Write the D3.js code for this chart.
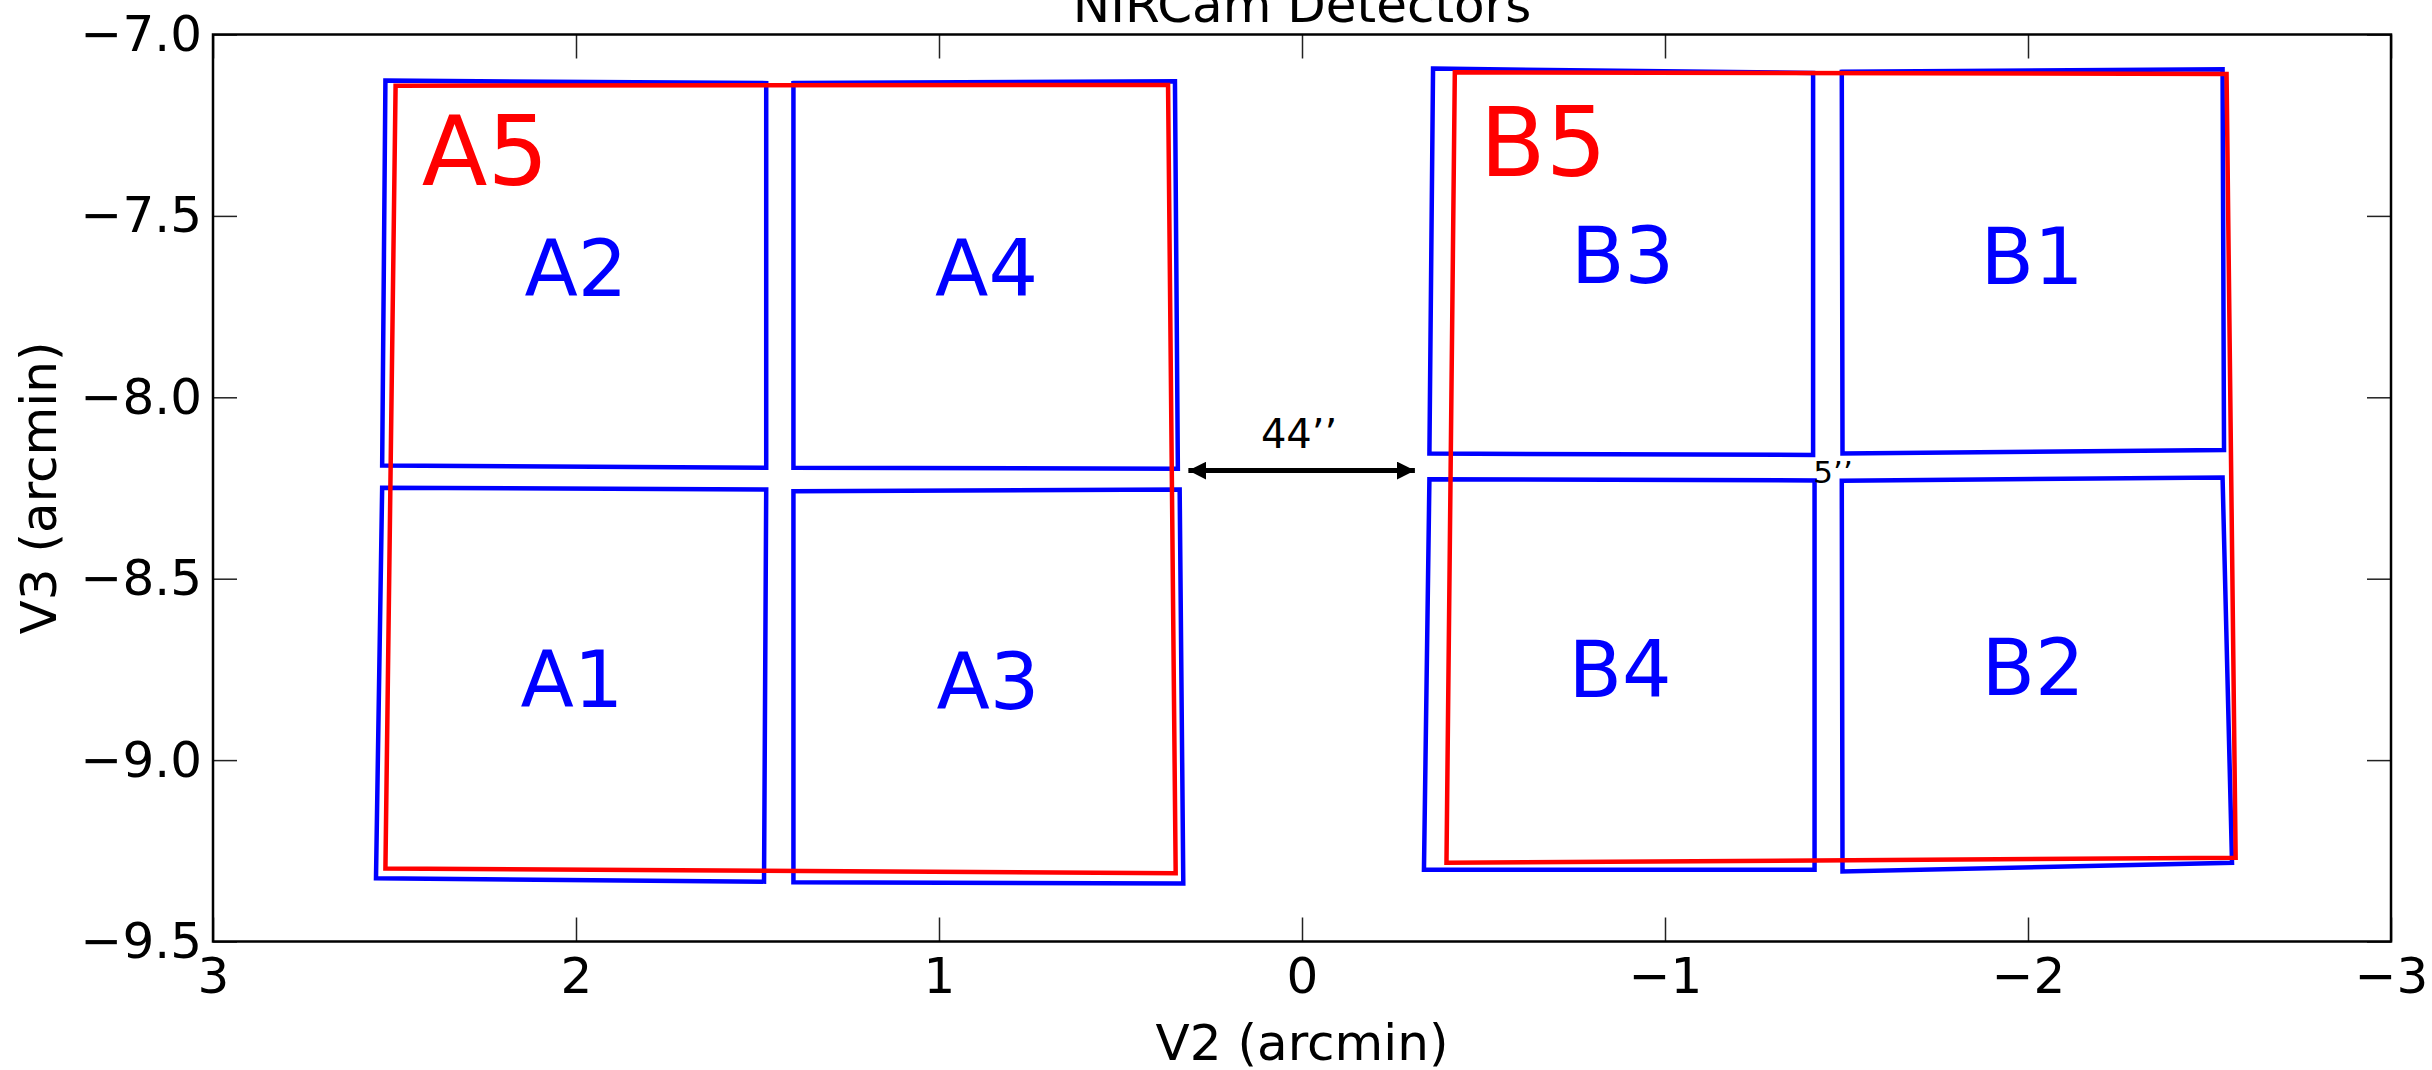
<!DOCTYPE html>
<html>
<head>
<meta charset="utf-8">
<script src="https://cdn.jsdelivr.net/npm/d3@7"></script>
<style>
  body { margin: 0; background: #fff; }
  text { font-family: "DejaVu Sans", sans-serif; }
</style>
</head>
<body>
<div id="chart"></div>
<script>
// detector corners (V2, V3 in arcmin), order: top-left, top-right, bottom-right, bottom-left
const detectorNames = ["A1", "A2", "A3", "A4", "B1", "B2", "B3", "B4"];
const detectorV2 = [
  [2.534, 1.476, 1.482, 2.551],
  [2.525, 1.476, 1.476, 2.534],
  [1.401, 0.337, 0.327, 1.401],
  [1.401, 0.350, 0.342, 1.401],
  [-1.487, -2.536, -2.540, -1.489],
  [-1.487, -2.536, -2.562, -1.489],
  [-0.361, -1.408, -1.408, -0.351],
  [-0.351, -1.412, -1.412, -0.336]
];
const detectorV3 = [
  [-8.249, -8.254, -9.335, -9.326],
  [-7.127, -7.134, -8.194, -8.188],
  [-8.259, -8.254, -9.340, -9.337],
  [-7.134, -7.129, -8.197, -8.194],
  [-7.103, -7.096, -8.145, -8.155],
  [-8.230, -8.221, -9.283, -9.307],
  [-7.094, -7.106, -8.159, -8.155],
  [-8.226, -8.229, -9.302, -9.302]
];
// label anchor (centre, baseline)
const detectorLabelV2 = [2.011, 2.0, 0.865, 0.869, -2.011, -2.014, -0.883, -0.876];
const detectorLabelV3 = [-8.853, -7.722, -8.859, -7.722, -7.689, -8.820, -7.684, -8.825];

// long wavelength modules
const moduleNames = ["A5", "B5"];
const moduleV2 = [
  [2.497, 0.369, 0.348, 2.525],
  [-0.421, -2.547, -2.572, -0.398]
];
const moduleV3 = [
  [-7.141, -7.139, -9.312, -9.299],
  [-7.104, -7.109, -9.269, -9.283]
];
// label anchor (left, baseline)
const moduleLabelV2 = [2.425, -0.490];
const moduleLabelV3 = [-7.416, -7.389];

// gap annotations
const gapArrowV2 = [0.313, -0.311];
const gapArrowV3 = -8.202;
const gapTexts = ["44\u2019\u2019", "5\u2019\u2019"];
const gapTextV2 = [0.008, -1.463];
const gapTextV3 = [-8.141, -8.235];

const xTicks = [3, 2, 1, 0, -1, -2, -3];
const yTicks = [-7.0, -7.5, -8.0, -8.5, -9.0, -9.5];

const W = 2432, H = 1070;
const margin = { top: 34.5, right: 41, bottom: 128.5, left: 213 };
const width = W - margin.left - margin.right;
const height = H - margin.top - margin.bottom;

const svg = d3.select("#chart").append("svg")
  .attr("width", W)
  .attr("height", H);

svg.append("defs").append("marker")
  .attr("id", "head")
  .attr("markerUnits", "userSpaceOnUse")
  .attr("viewBox", "0 0 18 18")
  .attr("refX", 18).attr("refY", 9)
  .attr("markerWidth", 18).attr("markerHeight", 18)
  .attr("orient", "auto-start-reverse")
  .append("path")
  .attr("d", "M0,0 L18,9 L0,18 Z")
  .attr("fill", "#000");

const g = svg.append("g")
  .attr("transform", "translate(" + margin.left + "," + margin.top + ")");

const x = d3.scaleLinear().domain([3, -3]).range([0, width]);
const y = d3.scaleLinear().domain([-7, -9.5]).range([0, height]);

const fmtY = d3.format(".1f");
const tickLen = 24;

// axes, ticks pointing inward on all four sides
const xb = g.append("g").attr("transform", "translate(0," + height + ")")
  .call(d3.axisBottom(x).tickValues(xTicks).tickFormat(d3.format("d"))
    .tickSizeInner(-tickLen).tickSizeOuter(0).tickPadding(16));
const xt = g.append("g")
  .call(d3.axisTop(x).tickValues(xTicks).tickFormat("")
    .tickSizeInner(-tickLen).tickSizeOuter(0));
const yl = g.append("g")
  .call(d3.axisLeft(y).tickValues(yTicks).tickFormat(fmtY)
    .tickSizeInner(-tickLen).tickSizeOuter(0).tickPadding(11));
const yr = g.append("g").attr("transform", "translate(" + width + ",0)")
  .call(d3.axisRight(y).tickValues(yTicks).tickFormat("")
    .tickSizeInner(-tickLen).tickSizeOuter(0));

[xb, xt, yl, yr].forEach(a => {
  a.select(".domain").remove();
  a.selectAll(".tick line").attr("stroke", "#222").attr("stroke-width", 1.5);
  a.selectAll(".tick text").attr("font-size", 50).attr("fill", "#000")
    .attr("font-family", "DejaVu Sans");
});

const line = d3.line().x(d => x(d[0])).y(d => y(d[1]));
const corners = (v2, v3) => v2.map((v, i) => [v, v3[i]]);

// detectors
g.selectAll(".det")
  .data(detectorNames)
  .enter().append("path")
  .attr("class", "det")
  .attr("d", (d, i) => line(corners(detectorV2[i], detectorV3[i])) + "Z")
  .attr("fill", "none")
  .attr("stroke", "#0000ff")
  .attr("stroke-width", 4.5);

// modules on top
g.selectAll(".mod")
  .data(moduleNames)
  .enter().append("path")
  .attr("class", "mod")
  .attr("d", (d, i) => line(corners(moduleV2[i], moduleV3[i])) + "Z")
  .attr("fill", "none")
  .attr("stroke", "#ff0000")
  .attr("stroke-width", 4.5);

g.selectAll(".detlabel")
  .data(detectorNames)
  .enter().append("text")
  .attr("class", "detlabel")
  .attr("x", (d, i) => x(detectorLabelV2[i]))
  .attr("y", (d, i) => y(detectorLabelV3[i]))
  .attr("text-anchor", "middle")
  .attr("font-size", 78)
  .attr("fill", "#0000ff")
  .text(d => d);

g.selectAll(".modlabel")
  .data(moduleNames)
  .enter().append("text")
  .attr("class", "modlabel")
  .attr("x", (d, i) => x(moduleLabelV2[i]))
  .attr("y", (d, i) => y(moduleLabelV3[i]))
  .attr("font-size", 96)
  .attr("fill", "#ff0000")
  .text(d => d);

// 44'' arrow
g.append("line")
  .attr("x1", x(gapArrowV2[0])).attr("x2", x(gapArrowV2[1]))
  .attr("y1", y(gapArrowV3)).attr("y2", y(gapArrowV3))
  .attr("stroke", "#000")
  .attr("stroke-width", 5)
  .attr("marker-start", "url(#head)")
  .attr("marker-end", "url(#head)");

g.selectAll(".gap")
  .data(gapTexts)
  .enter().append("text")
  .attr("class", "gap")
  .attr("x", (d, i) => x(gapTextV2[i]))
  .attr("y", (d, i) => y(gapTextV3[i]))
  .attr("text-anchor", "middle")
  .attr("font-size", (d, i) => i === 0 ? 40 : 31)
  .attr("fill", "#000")
  .text(d => d);

// frame
g.append("rect")
  .attr("width", width).attr("height", height)
  .attr("fill", "none")
  .attr("stroke", "#000")
  .attr("stroke-width", 2.5);

// titles (the title sits partly above the top edge, as in the original)
g.append("text")
  .attr("x", width / 2).attr("y", -13)
  .attr("text-anchor", "middle")
  .attr("font-size", 50)
  .text("NIRCam Detectors");

g.append("text")
  .attr("x", width / 2).attr("y", height + 118)
  .attr("text-anchor", "middle")
  .attr("font-size", 50)
  .text("V2 (arcmin)");

svg.append("text")
  .attr("transform", "translate(56," + (margin.top + height / 2) + ") rotate(-90)")
  .attr("text-anchor", "middle")
  .attr("font-size", 50)
  .text("V3 (arcmin)");
</script>
</body>
</html>
